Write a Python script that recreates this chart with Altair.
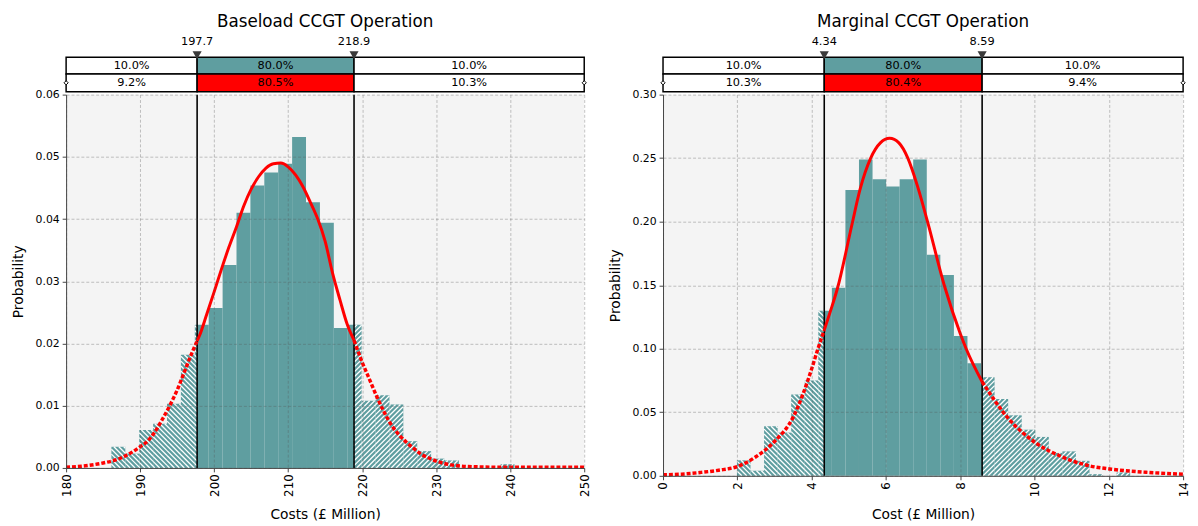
import altair as alt
import pandas as pd

FONT = "DejaVu Sans"
TEAL = "#5f9ea0"
RED = "#ff0000"

# ---------------- data: Baseload panel ----------------
base_title = "Baseload CCGT Operation"
base_x_title = "Costs (£ Million)"
base_x_domain = [180, 250]
base_x_ticks = [180, 190, 200, 210, 220, 230, 240, 250]
base_y_ticks = [0.00, 0.01, 0.02, 0.03, 0.04, 0.05, 0.06]
base_bin_start = 186.12
base_bin_width = 1.878
base_hist = [0.0034, 0.0023, 0.0061, 0.0071, 0.0103, 0.0182, 0.0230, 0.0257,
             0.0326, 0.0410, 0.0454, 0.0475, 0.0489, 0.0532, 0.0427, 0.0394,
             0.0225, 0.0230, 0.0108, 0.0117, 0.0102, 0.0043, 0.0027, 0.0015,
             0.0012, 0.0, 0.0, 0.0, 0.0006]
base_quantiles = [197.7, 218.9]
base_quantile_labels = ["197.7", "218.9"]
base_target_pct = ["10.0%", "80.0%", "10.0%"]
base_fit_pct = ["9.2%", "80.5%", "10.3%"]
base_curve_x = [180, 183, 185, 187, 189, 190, 191, 192, 193, 194, 195, 196, 197,
                197.7, 198, 199, 200, 201, 202, 203, 204, 205, 206, 207, 208,
                209, 210, 211, 212, 213, 214, 215, 216, 217, 218, 218.9, 220,
                221, 222, 223, 224, 225, 226, 227, 228, 229, 230, 232, 235,
                240, 250]
base_curve_y = [0.0001, 0.0004, 0.0008, 0.0014, 0.0026, 0.0034, 0.0043, 0.0058,
                0.0078, 0.0100, 0.0125, 0.0155, 0.0185, 0.0204, 0.0212, 0.0247,
                0.0283, 0.0320, 0.0355, 0.0387, 0.0421, 0.0448, 0.0468, 0.0482,
                0.0489, 0.0490, 0.0484, 0.0471, 0.0452, 0.0427, 0.0400, 0.0364,
                0.0313, 0.0270, 0.0230, 0.0205, 0.0170, 0.0142, 0.0114, 0.0089,
                0.0068, 0.0053, 0.0041, 0.0031, 0.0022, 0.0016, 0.0011, 0.0005,
                0.0002, 0.0001, 0.0001]

# ---------------- data: Marginal panel ----------------
marg_title = "Marginal CCGT Operation"
marg_x_title = "Cost (£ Million)"
marg_x_domain = [0, 14]
marg_x_ticks = [0, 2, 4, 6, 8, 10, 12, 14]
marg_y_ticks = [0.00, 0.05, 0.10, 0.15, 0.20, 0.25, 0.30]
marg_bin_start = 1.99
marg_bin_width = 0.365
marg_hist = [0.0122, 0.0040, 0.0390, 0.0340, 0.0640, 0.0750, 0.1300, 0.1480,
             0.2250, 0.2490, 0.2334, 0.2277, 0.2334, 0.2490, 0.1740, 0.1580,
             0.1100, 0.0885, 0.0776, 0.0605, 0.0476, 0.0363, 0.0306, 0.0180,
             0.0192, 0.0118, 0.0013, 0.0, 0.0026]
marg_quantiles = [4.34, 8.59]
marg_quantile_labels = ["4.34", "8.59"]
marg_target_pct = ["10.0%", "80.0%", "10.0%"]
marg_fit_pct = ["10.3%", "80.4%", "9.4%"]
marg_curve_x = [0, 0.5, 1, 1.5, 2, 2.5, 3, 3.5, 4, 4.17, 4.34, 4.5, 4.7, 5.08,
                5.3, 5.59, 5.85, 6.1, 6.35, 6.59, 6.85, 7.12, 7.57, 8.0, 8.16,
                8.59, 9.3, 10.05, 10.73, 11.49, 12.07, 13, 14]
marg_curve_y = [0.0008, 0.0013, 0.0026, 0.0044, 0.0073, 0.0150, 0.0270, 0.0460,
                0.0840, 0.1000, 0.1146, 0.1290, 0.1480, 0.1970, 0.2250, 0.2500,
                0.2620, 0.2656, 0.2620, 0.2500, 0.2280, 0.2000, 0.1500, 0.1120,
                0.1000, 0.0740, 0.0450, 0.0256, 0.0151, 0.0078, 0.0052, 0.0028,
                0.0013]


def panel(title, x_title, dom, xticks, yticks, bin_start, bin_w, hist, q, qlab,
          tpct, fpct, cx, cy, W, H):
    ymax = yticks[-1]
    xscale = alt.Scale(domain=dom, nice=False, zero=False)
    yscale = alt.Scale(domain=[0, ymax], nice=False)
    xaxis = alt.Axis(values=xticks, format="d", labelAngle=270, title=x_title,
                     grid=True, zindex=1, tickSize=4, labelPadding=2,
                     labelFontSize=12, titlePadding=11)
    yaxis = alt.Axis(values=yticks, format=".2f", title="Probability",
                     grid=True, zindex=1, tickSize=4, labelPadding=3,
                     titlePadding=10)

    def X(f):
        return alt.X(f, type="quantitative", scale=xscale, axis=xaxis)

    def Y(f):
        return alt.Y(f, type="quantitative", scale=yscale, axis=yaxis)

    def Xb(f):
        return alt.X(f, type="quantitative", scale=xscale, axis=None)

    # histogram pieces split at the quantile lines
    rows = []
    for i, h in enumerate(hist):
        if h <= 0:
            continue
        a = bin_start + i * bin_w
        b = a + bin_w
        cuts = [a] + [c for c in q if a < c < b] + [b]
        for lo, hi in zip(cuts[:-1], cuts[1:]):
            mid = (lo + hi) / 2
            part = "low" if mid < q[0] else ("high" if mid > q[1] else "mid")
            rows.append(dict(x0=lo, x1=hi, y0=0.0, h=h, part=part))
    bars_df = pd.DataFrame(rows)

    # hatch segments (derived from bar pieces, in pixel space then back)
    sx = W / (dom[1] - dom[0])
    sy = H / ymax
    d = 5.0
    hrows = []
    for r in rows:
        if r["part"] == "mid":
            continue
        px0 = (r["x0"] - dom[0]) * sx
        px1 = (r["x1"] - dom[0]) * sx
        ph = r["h"] * sy
        segs = []
        if r["part"] == "high":  # '/' lines: x - y = c
            k0 = int((px0 - ph) // d) - 1
            k1 = int(px1 // d) + 1
            for k in range(k0, k1 + 1):
                c = k * d
                lo = max(0.0, px0 - c)
                hi = min(ph, px1 - c)
                if hi > lo:
                    segs.append((lo + c, lo, hi + c, hi))
        else:  # '\' lines: x + y = c
            k0 = int(px0 // d) - 1
            k1 = int((px1 + ph) // d) + 1
            for k in range(k0, k1 + 1):
                c = k * d
                lo = max(0.0, c - px1)
                hi = min(ph, c - px0)
                if hi > lo:
                    segs.append((c - lo, lo, c - hi, hi))
        for (ax, ay, bx, by) in segs:
            hrows.append(dict(hx0=ax / sx + dom[0], hy0=ay / sy,
                              hx1=bx / sx + dom[0], hy1=by / sy))
    hatch_df = pd.DataFrame(hrows)

    # curve pieces
    crow = []
    for x, y in zip(cx, cy):
        if x <= q[0]:
            crow.append(dict(cx=x, cy=y, seg="low"))
        if q[0] <= x <= q[1]:
            crow.append(dict(cx=x, cy=y, seg="mid"))
        if x >= q[1]:
            crow.append(dict(cx=x, cy=y, seg="high"))
    curve_df = pd.DataFrame(crow)

    q_df = pd.DataFrame(dict(q=q, qlab=qlab))

    bars = alt.Chart(bars_df).mark_rect(color=TEAL).encode(
        x=X("x0"), x2=alt.X2("x1"), y=Y("y0"), y2=alt.Y2("h"))
    hatch = alt.Chart(hatch_df).mark_rule(color="white", strokeWidth=1.3).encode(
        x=X("hx0"), x2=alt.X2("hx1"), y=Y("hy0"), y2=alt.Y2("hy1"))
    qrule = alt.Chart(q_df).mark_rule(color="black", strokeWidth=1.6).encode(
        x=X("q"))
    c_mid = alt.Chart(curve_df).transform_filter(alt.datum.seg == "mid").mark_line(
        color=RED, strokeWidth=3, interpolate="monotone").encode(
        x=X("cx"), y=Y("cy"))
    c_tail = alt.Chart(curve_df).transform_filter(alt.datum.seg != "mid").mark_line(
        color=RED, strokeWidth=3.5, strokeDash=[4, 2], interpolate="monotone").encode(
        x=X("cx"), y=Y("cy"), detail="seg:N")

    main = alt.layer(bars, hatch, qrule, c_tail, c_mid).properties(
        width=W, height=H, view=alt.ViewBackground(fill="#f4f4f4", strokeWidth=0))

    # ---- band above the plot ----
    edges = [dom[0], q[0], q[1], dom[1]]
    band_rows = []
    for j in range(3):
        band_rows.append(dict(x0=edges[j], x1=edges[j + 1],
                              xm=(edges[j] + edges[j + 1]) / 2, row="target",
                              fill=["white", TEAL, "white"][j], label=tpct[j]))
        band_rows.append(dict(x0=edges[j], x1=edges[j + 1],
                              xm=(edges[j] + edges[j + 1]) / 2, row="fit",
                              fill=["white", RED, "white"][j], label=fpct[j]))
    band_df = pd.DataFrame(band_rows)
    ends_df = pd.DataFrame(dict(xd=[dom[0], dom[1]]))

    top_rect = alt.Chart(band_df).transform_filter(alt.datum.row == "target").mark_rect(
        stroke="black", strokeWidth=1.5).encode(
        x=Xb("x0"), x2=alt.X2("x1"), y=alt.value(26), y2=alt.value(43),
        fill=alt.Fill("fill:N", scale=None))
    bot_rect = alt.Chart(band_df).transform_filter(alt.datum.row == "fit").mark_rect(
        stroke="black", strokeWidth=1.5).encode(
        x=Xb("x0"), x2=alt.X2("x1"), y=alt.value(43), y2=alt.value(61),
        fill=alt.Fill("fill:N", scale=None))
    top_txt = alt.Chart(band_df).transform_filter(alt.datum.row == "target").mark_text(
        fontSize=11.5, font=FONT, color="black").encode(
        x=Xb("xm"), y=alt.value(35), text="label:N")
    bot_txt = alt.Chart(band_df).transform_filter(alt.datum.row == "fit").mark_text(
        fontSize=11.5, font=FONT, color="black").encode(
        x=Xb("xm"), y=alt.value(52.5), text="label:N")
    tri = alt.Chart(q_df).mark_point(shape="triangle-down", filled=True, size=85,
                                     color="#3a3a3a", opacity=1).encode(
        x=Xb("q"), y=alt.value(24))
    qtxt = alt.Chart(q_df).mark_text(fontSize=11.5, font=FONT, color="black").encode(
        x=Xb("q"), y=alt.value(11), text="qlab:N")
    diam = alt.Chart(ends_df).mark_point(shape="diamond", filled=True, fill="white",
                                         stroke="black", strokeWidth=1, size=18,
                                         opacity=1).encode(
        x=Xb("xd"), y=alt.value(52))

    band = alt.layer(top_rect, bot_rect, top_txt, bot_txt, tri, qtxt, diam).properties(
        width=W, height=61,
        title=alt.TitleParams(title, fontSize=17, font=FONT, fontWeight="normal",
                              anchor="middle", frame="group", offset=1),
        view=alt.ViewBackground(strokeWidth=0))

    return alt.vconcat(band, main, spacing=3, bounds="flush")


left = panel(base_title, base_x_title, base_x_domain, base_x_ticks, base_y_ticks,
             base_bin_start, base_bin_width, base_hist, base_quantiles,
             base_quantile_labels, base_target_pct, base_fit_pct,
             base_curve_x, base_curve_y, 526, 379)
right = panel(marg_title, marg_x_title, marg_x_domain, marg_x_ticks, marg_y_ticks,
              marg_bin_start, marg_bin_width, marg_hist, marg_quantiles,
              marg_quantile_labels, marg_target_pct, marg_fit_pct,
              marg_curve_x, marg_curve_y, 528, 387)

chart = alt.hconcat(left, right, spacing=17,
                    padding={"left": 3, "top": 1, "right": 0, "bottom": 0}).configure(
    font=FONT).configure_view(strokeWidth=0).configure_axis(
    labelFont=FONT, titleFont=FONT, labelFontSize=11, titleFontSize=14,
    titleFontWeight="normal", labelColor="black", titleColor="black",
    domainColor="#444", tickColor="#444", gridColor="#555", gridOpacity=0.35,
    gridDash=[3, 2])

chart.save("out.html", embed_options={"renderer": "svg", "actions": False})
